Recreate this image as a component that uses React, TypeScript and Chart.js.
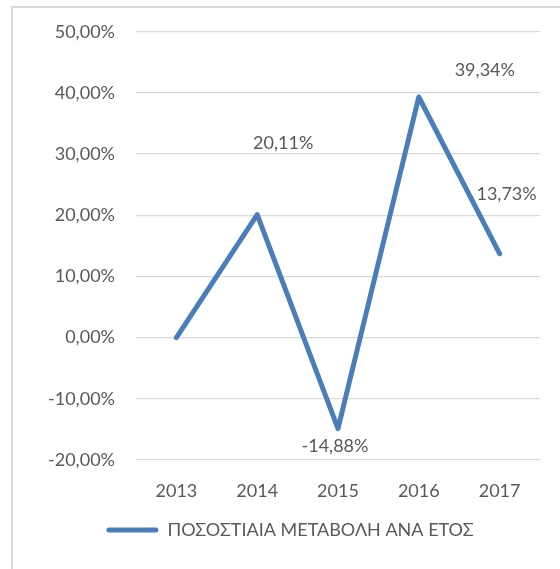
import React, { useEffect, useRef } from "react";
import { Chart, registerables } from "chart.js";

Chart.register(...registerables);

const years = ["2013", "2014", "2015", "2016", "2017"];
const changePct = [0, 20.11, -14.88, 39.34, 13.73];
const seriesName = "ΠΟΣΟΣΤΙΑΙΑ ΜΕΤΑΒΟΛΗ ΑΝΑ ΕΤΟΣ";
const yMin = -20;
const yMax = 50;
const yStep = 10;

// label placement (style only)
const showLabel = [false, true, true, true, true];
const labelDx = [0, 26, -3, 66, 7];
const labelDy = [0, -71, 18, -27, -59];

const FONT = "Lato, 'Open Sans', 'DejaVu Sans', sans-serif";
const TEXT = "#595959";
const BLUE = "#4A7EBB";

const fmt = (v: number) => v.toFixed(2).replace(".", ",") + "%";

export default function App() {
  const ref = useRef<HTMLCanvasElement | null>(null);
  useEffect(() => {
    if (!ref.current) return;
    const labelPlugin = {
      id: "dataLabels",
      afterDatasetsDraw(chart: any) {
        const meta = chart.getDatasetMeta(0);
        const ctx = chart.ctx;
        ctx.save();
        ctx.font = `18px ${FONT}`;
        ctx.fillStyle = TEXT;
        ctx.textAlign = "center";
        ctx.textBaseline = "middle";
        meta.data.forEach((el: any, i: number) => {
          if (!showLabel[i]) return;
          ctx.fillText(fmt(changePct[i]), el.x + labelDx[i], el.y + labelDy[i]);
        });
        ctx.restore();
      },
    };
    const chart = new Chart(ref.current, {
      type: "line",
      data: {
        labels: years,
        datasets: [
          {
            label: seriesName,
            data: changePct,
            borderColor: BLUE,
            backgroundColor: BLUE,
            borderWidth: 5,
            borderJoinStyle: "round",
            borderCapStyle: "round",
            pointRadius: 0,
            pointHoverRadius: 0,
            tension: 0,
          },
        ],
      },
      options: {
        animation: false,
        responsive: false,
        maintainAspectRatio: false,
        layout: { padding: { left: 40, right: 20, top: 31, bottom: 20 } },
        scales: {
          x: {
            offset: true,
            grid: { display: false, drawTicks: false },
            border: { display: false },
            ticks: { color: TEXT, font: { family: FONT, size: 18 }, padding: 20 },
            afterFit(scale: any) {
              scale.height = 52;
            },
          },
          y: {
            min: yMin,
            max: yMax,
            grid: { color: "#d9d9d9", lineWidth: 1.3, drawTicks: false },
            border: { display: false },
            ticks: {
              stepSize: yStep,
              color: TEXT,
              font: { family: FONT, size: 18 },
              padding: 21,
              callback: (v: any) => fmt(Number(v)),
            },
            afterFit(scale: any) {
              scale.width = 96;
            },
          },
        },
        plugins: {
          legend: {
            position: "bottom",
            labels: {
              color: TEXT,
              font: { family: FONT, size: 18 },
              boxWidth: 52,
              boxHeight: 5,
              padding: 9,
              useBorderRadius: true,
              borderRadius: 2.5,
              generateLabels: (c: any) =>
                Chart.defaults.plugins.legend.labels
                  .generateLabels(c)
                  .map((l: any) => ({ ...l, lineWidth: 0, fillStyle: BLUE })),
            },
          },
          tooltip: { enabled: false },
        },
      },
      plugins: [labelPlugin],
    } as any);
    return () => chart.destroy();
  }, []);
  return (
    <div
      style={{
        position: "absolute",
        left: 0,
        top: 0,
        width: 560,
        height: 569,
        overflow: "hidden",
        background: "#fff",
      }}
    >
      <div
        style={{
          position: "absolute",
          left: 11,
          top: 6,
          width: 600,
          height: 700,
          border: "2px solid #d9d9d9",
          boxSizing: "border-box",
        }}
      />
      <canvas
        ref={ref}
        width={560}
        height={569}
        style={{ position: "absolute", left: 0, top: 0, width: 560, height: 569 }}
      />
    </div>
  );
}
